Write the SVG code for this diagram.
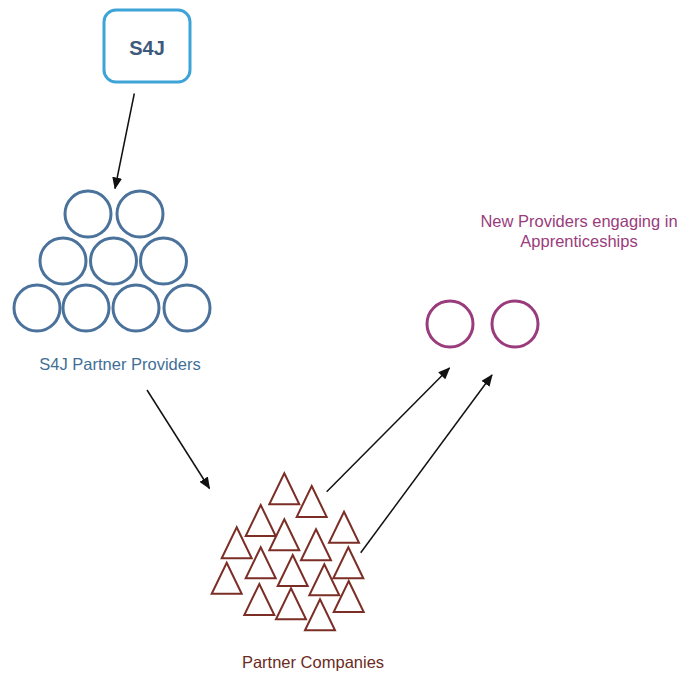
<svg xmlns="http://www.w3.org/2000/svg" xmlns:xlink="http://www.w3.org/1999/xlink" width="694" height="675" viewBox="0 0 694 675">
<style>
text { font-family: "Liberation Sans", Arial, Helvetica, sans-serif; }
.blue { fill: none; stroke: #4a729b; stroke-width: 3; }
.purple { fill: none; stroke: #9a3c7c; stroke-width: 3; }
.tri { fill: none; stroke: #7b2e26; stroke-width: 2; stroke-linejoin: miter; }
.conn { stroke: #111; stroke-width: 1.5; fill: none; marker-end: url(#arrow); }
</style>
<defs>
<marker id="arrow" markerUnits="userSpaceOnUse" markerWidth="12" markerHeight="10" refX="11" refY="5" orient="auto">
<path d="M0,0 L12,5 L0,10 Z" fill="#111"/>
</marker>
<path id="t" d="M0,0 L15,31 L-15,31 Z"/>
</defs>
<rect width="694" height="675" fill="#fff"/>

<g id="s4j">
<rect x="104" y="10" width="86" height="72" rx="12" fill="#fff" stroke="#3ea3d6" stroke-width="3"/>
<text x="147" y="55" text-anchor="middle" font-size="20" font-weight="bold" fill="#3e5a7a">S4J</text>
</g>

<g id="partner-providers">
<circle class="blue" cx="88" cy="214" r="23"/>
<circle class="blue" cx="140" cy="214" r="23"/>
<circle class="blue" cx="63" cy="261" r="23"/>
<circle class="blue" cx="113.5" cy="261" r="23"/>
<circle class="blue" cx="163.5" cy="261" r="23"/>
<circle class="blue" cx="37" cy="308" r="23"/>
<circle class="blue" cx="86" cy="308" r="23"/>
<circle class="blue" cx="136" cy="308" r="23"/>
<circle class="blue" cx="187" cy="308" r="23"/>
<text x="120" y="370" text-anchor="middle" font-size="16.5" fill="#3f6f96">S4J Partner Providers</text>
</g>

<g id="new-providers">
<text x="579" y="227" text-anchor="middle" font-size="16.5" fill="#9a3c7c">New Providers engaging in</text>
<text x="579" y="247" text-anchor="middle" font-size="16.5" fill="#9a3c7c">Apprenticeships</text>
<circle class="purple" cx="450" cy="324" r="23"/>
<circle class="purple" cx="515" cy="324" r="23"/>
</g>

<g id="partner-companies" class="tri">
<use href="#t" x="284.3" y="473.3"/>
<use href="#t" x="311.7" y="486"/>
<use href="#t" x="260.7" y="505"/>
<use href="#t" x="284.3" y="519.3"/>
<use href="#t" x="236.7" y="527.3"/>
<use href="#t" x="316" y="529.3"/>
<use href="#t" x="344" y="511.7"/>
<use href="#t" x="260.7" y="547.3"/>
<use href="#t" x="292.7" y="555"/>
<use href="#t" x="348.3" y="547.3"/>
<use href="#t" x="226.7" y="562.7"/>
<use href="#t" x="324.3" y="564.3"/>
<use href="#t" x="259.3" y="584"/>
<use href="#t" x="291" y="588.3"/>
<use href="#t" x="348.7" y="581"/>
<use href="#t" x="320" y="599.3"/>
<text x="313" y="668" text-anchor="middle" font-size="16.5" fill="#6b2a22" stroke="none">Partner Companies</text>
</g>

<g id="connectors">
<line class="conn" x1="134.3" y1="93.5" x2="115" y2="188.5"/>
<line class="conn" x1="147" y1="390" x2="209.5" y2="488.5"/>
<line class="conn" x1="326.7" y1="491.7" x2="449.5" y2="368"/>
<line class="conn" x1="360.7" y1="552.7" x2="492" y2="375"/>
</g>
</svg>
